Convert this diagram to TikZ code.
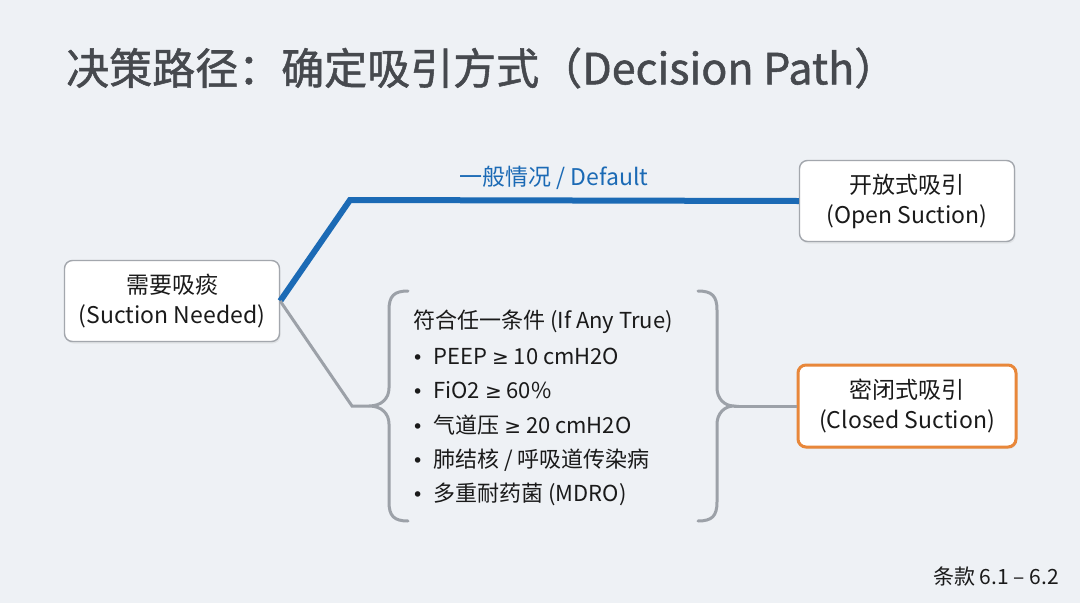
\documentclass[tikz,border=0pt]{standalone}
\usepackage{fontspec}
\setmainfont{Noto Sans CJK SC}
\newfontfamily\titlefont[FakeBold=1.2]{Noto Sans CJK SC}
\newfontfamily\symfont{DejaVu Sans}
\usetikzlibrary{shadows}
\definecolor{bg}{HTML}{EEF1F5}
\definecolor{bluepath}{HTML}{1B6AB5}
\definecolor{graypath}{HTML}{9CA1A8}
\definecolor{boxline}{HTML}{A3A7AD}
\definecolor{orangeline}{HTML}{E8873A}
\definecolor{titlegray}{HTML}{46494E}
\definecolor{txt}{HTML}{1A1A1A}
\newcommand{\mybul}{{\symfont\fontsize{19}{22}\selectfont •}\hspace{10pt}}
\newcommand{\mygeq}{{\symfont\fontsize{20}{22}\selectfont ≥}}
\tikzset{
  box/.style={draw=boxline, line width=1.4pt, fill=white, rounded corners=8pt,
    minimum width=215pt, minimum height=81pt, align=center, text=txt,
    font=\fontsize{23}{30}\selectfont,
    drop shadow={opacity=0.12, shadow xshift=1pt, shadow yshift=-2pt}},
  closedbox/.style={box, draw=orangeline, line width=3pt, minimum width=218pt, minimum height=82pt},
  bluelink/.style={draw=bluepath, line width=6pt},
  graylink/.style={draw=graypath, line width=3pt},
  bracestyle/.style={draw=graypath, line width=3pt, line cap=round},
  listtext/.style={anchor=west, text=txt, font=\fontsize{22}{26}\selectfont, inner sep=0pt},
}
\begin{document}
\begin{tikzpicture}[x=1pt,y=-1pt]
\fill[bg] (0,0) rectangle (1080,603);
\useasboundingbox (0,0) rectangle (1080,603);

\node[anchor=west, text=titlegray, font=\titlefont\fontsize{43}{48}\selectfont, inner sep=0pt] (title) at (66,68) {决策路径：确定吸引方式（Decision Path）};

\node[box] (need) at (172,301) {需要吸痰\\(Suction Needed)};
\node[box] (open) at (907,201) {开放式吸引\\(Open Suction)};
\node[closedbox] (closed) at (907,406) {密闭式吸引\\(Closed Suction)};

\coordinate (bend1) at (350,200);
\coordinate (bend2) at (352,406);
\coordinate (ltip) at (369,406);
\coordinate (rtip) at (734,406);

\draw[bluelink] (need.east) -- (bend1) -- (open.west);
\node[text=bluepath, font=\fontsize{23}{28}\selectfont, inner sep=0pt] (deflabel) at (554,178) {一般情况 / Default};

\draw[graylink] (need.east) -- (bend2) -- (ltip);

% left brace
\draw[bracestyle] (408,291) .. controls (394,291) and (389,296) .. (389,310) -- (389,388)
  .. controls (389,398) and (382,406) .. (ltip)
  .. controls (382,406) and (389,414) .. (389,424) -- (389,502)
  .. controls (389,516) and (394,521) .. (408,521);
% right brace
\draw[bracestyle] (698,291) .. controls (712,291) and (717,296) .. (717,310) -- (717,388)
  .. controls (717,398) and (724,406) .. (rtip)
  .. controls (724,406) and (717,414) .. (717,424) -- (717,502)
  .. controls (717,516) and (712,521) .. (698,521);

\draw[graylink] (rtip) -- (closed.west);

\node[listtext] (l0) at (413,322) {符合任一条件 (If Any True)};
\node[listtext] (l1) at (412,356) {\mybul PEEP \mygeq{} 10 cmH2O};
\node[listtext] (l2) at (412,390) {\mybul FiO2 \mygeq{} 60\%};
\node[listtext] (l3) at (412,425) {\mybul 气道压 \mygeq{} 20 cmH2O};
\node[listtext] (l4) at (412,460) {\mybul 肺结核 / 呼吸道传染病};
\node[listtext] (l5) at (412,494) {\mybul 多重耐药菌 (MDRO)};

\node[anchor=east, text=txt, font=\fontsize{21}{26}\selectfont, inner sep=0pt] (clause) at (1059,577) {条款 6.1 – 6.2};
\end{tikzpicture}
\end{document}
